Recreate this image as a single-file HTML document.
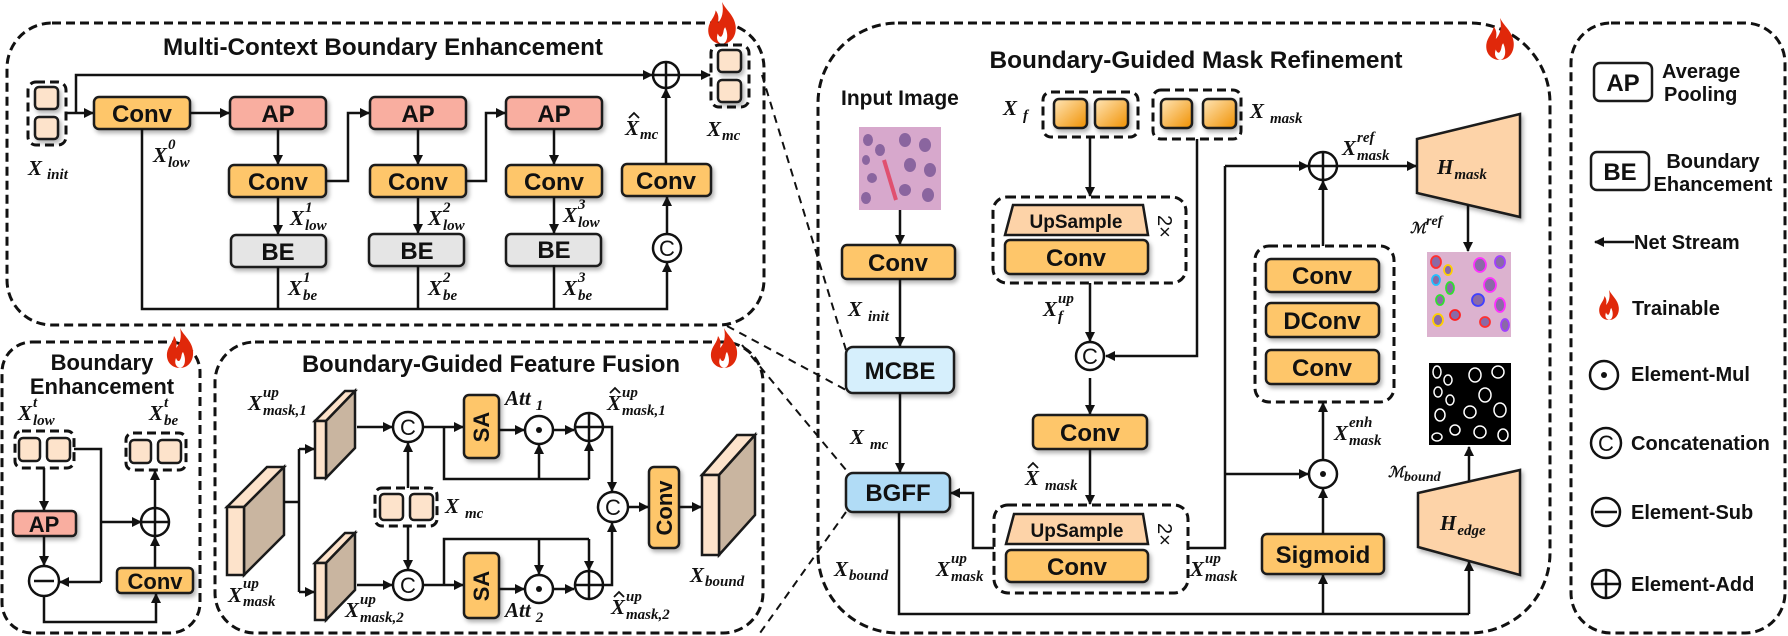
<!DOCTYPE html>
<html><head><meta charset="utf-8"><style>
html,body{margin:0;padding:0;background:#fff}
svg{display:block}
.t{font-family:"Liberation Sans",sans-serif;font-weight:bold;fill:#111}
.m{font-family:"Liberation Serif","DejaVu Serif",serif;font-style:italic;font-weight:bold;font-size:21px;fill:#111}
.s{font-family:"Liberation Serif","DejaVu Serif",serif;font-style:italic;font-weight:bold;font-size:15px;fill:#111}
.ln{stroke:#111;stroke-width:2.5;fill:none}
.ar{stroke:#111;stroke-width:2.5;fill:none;marker-end:url(#ah)}
.box{stroke:#1a1a1a;stroke-width:2.5}
.dash{stroke:#111;stroke-width:3;stroke-dasharray:9 5;fill:none}
.zl{stroke:#111;stroke-width:2;stroke-dasharray:8 6;fill:none}
</style></head><body>
<svg width="1788" height="636" viewBox="0 0 1788 636" xmlns="http://www.w3.org/2000/svg">
<defs>
<marker id="ah" markerWidth="10" markerHeight="10" refX="9" refY="5" orient="auto" markerUnits="userSpaceOnUse"><path d="M0,0 L10,5 L0,10 Z" fill="#111"/></marker>
<filter id="sh" x="-20%" y="-20%" width="150%" height="160%"><feDropShadow dx="2" dy="3" stdDeviation="2" flood-color="#000" flood-opacity="0.3"/></filter>
<linearGradient id="og" x1="0" y1="0" x2="1" y2="1"><stop offset="0" stop-color="#ffe6b8"/><stop offset="1" stop-color="#f09000"/></linearGradient>
<symbol id="fire" viewBox="0 0 30 40"><path d="M15 0 C19 8 27 13 28 23 C29 33 23 40 15 40 C7 40 1 34 2 25 C3 18 8 15 9 8 C12 12 12 16 11 20 C15 16 17 9 15 0Z M15 40 C11 39 9 35 11 30 C12 33 14 34 15 32 C17 29 16 26 18 24 C21 30 21 39 15 40Z" fill="#e0280a" fill-rule="evenodd"/></symbol>
</defs>

<!-- Panels -->
<rect x="7" y="23" width="757" height="302" rx="45" fill="#d9effb" class="dash"/>
<rect x="2" y="342" width="198" height="291" rx="30" fill="#e6e6e6" class="dash"/>
<rect x="215" y="342" width="548" height="291" rx="40" fill="#b4dffa" class="dash"/>
<rect x="818" y="23" width="732" height="610" rx="80" fill="#fdf6e3" class="dash"/>
<rect x="1571" y="23" width="214" height="610" rx="40" fill="#ececec" class="dash"/>

<!-- zoom lines -->
<path class="zl" d="M762 75 L846 350"/>
<path class="zl" d="M727 326 L846 390"/>
<path class="zl" d="M742 345 L846 470"/>
<path class="zl" d="M846 512 L760 633"/>

<use href="#fire" x="706" y="2" width="32" height="42"/>
<use href="#fire" x="164" y="328" width="32" height="40"/>
<use href="#fire" x="708" y="328" width="32" height="40"/>
<use href="#fire" x="1484" y="18" width="32" height="42"/>

<!-- ================= MCBE ================= -->
<text class="t" x="383" y="55" font-size="24" text-anchor="middle" textLength="440" lengthAdjust="spacingAndGlyphs">Multi-Context Boundary Enhancement</text>
<rect x="28" y="82" width="38" height="63" rx="8" fill="none" class="dash"/>
<rect x="35" y="87" width="23" height="22" rx="4" fill="#fde3cb" class="box" filter="url(#sh)"/>
<rect x="35" y="117" width="23" height="22" rx="4" fill="#fde3cb" class="box" filter="url(#sh)"/>
<text class="m" x="28" y="175">X<tspan class="s" dx="5" dy="4">init</tspan></text>

<path class="ar" d="M66 113 L93 113"/>
<path class="ar" d="M76 113 L76 75 L652 75"/>
<circle cx="666" cy="75" r="13" fill="none" class="ln"/><path class="ln" d="M653 75 H679 M666 62 V88"/>
<path class="ar" d="M679 75 L710 75"/>
<rect x="711" y="45" width="38" height="62" rx="8" fill="none" class="dash"/>
<rect x="718" y="50" width="23" height="22" rx="4" fill="#fde3cb" class="box" filter="url(#sh)"/>
<rect x="718" y="80" width="23" height="22" rx="4" fill="#fde3cb" class="box" filter="url(#sh)"/>
<text class="m" x="707" y="136">X<tspan class="s" dx="1" dy="4">mc</tspan></text>

<g filter="url(#sh)">
<rect x="94" y="97" width="96" height="32" rx="5" fill="#fec66a" class="box"/>
<rect x="230" y="97" width="96" height="32" rx="5" fill="#f9aea0" class="box"/>
<rect x="229" y="165" width="97" height="32" rx="5" fill="#fec66a" class="box"/>
<rect x="231" y="235" width="95" height="32" rx="5" fill="#e5e5e5" class="box"/>
<rect x="370" y="97" width="96" height="32" rx="5" fill="#f9aea0" class="box"/>
<rect x="370" y="165" width="96" height="32" rx="5" fill="#fec66a" class="box"/>
<rect x="369" y="234" width="95" height="32" rx="5" fill="#e5e5e5" class="box"/>
<rect x="506" y="97" width="96" height="32" rx="5" fill="#f9aea0" class="box"/>
<rect x="506" y="165" width="96" height="32" rx="5" fill="#fec66a" class="box"/>
<rect x="506" y="234" width="95" height="32" rx="5" fill="#e5e5e5" class="box"/>
<rect x="622" y="164" width="89" height="32" rx="5" fill="#fec66a" class="box"/>
</g>
<g class="t" font-size="24" text-anchor="middle">
<text x="142" y="122">Conv</text><text x="278" y="122">AP</text><text x="278" y="190">Conv</text><text x="278" y="260">BE</text>
<text x="418" y="122">AP</text><text x="418" y="190">Conv</text><text x="417" y="259">BE</text>
<text x="554" y="122">AP</text><text x="554" y="190">Conv</text><text x="554" y="258">BE</text>
<text x="666" y="189">Conv</text>
</g>
<path class="ar" d="M190 113 L229 113"/>
<path class="ar" d="M278 129 L278 164"/>
<path class="ar" d="M326 181 L348 181 L348 113 L369 113"/>
<path class="ar" d="M418 129 L418 164"/>
<path class="ar" d="M466 181 L486 181 L486 113 L505 113"/>
<path class="ar" d="M554 129 L554 164"/>
<path class="ar" d="M278 197 L278 234"/>
<path class="ar" d="M418 198 L418 233"/>
<path class="ar" d="M554 197 L554 233"/>
<path class="ln" d="M278 267 V309 M418 266 V309 M554 265 V309"/>
<path class="ar" d="M142 129 L142 309 L667 309 L667 263"/>
<circle cx="667" cy="248" r="14" fill="none" class="ln"/><text x="667" y="256" font-family="Liberation Sans,sans-serif" font-size="22" text-anchor="middle" fill="#111">C</text>
<path class="ar" d="M667 234 L667 197"/>
<path class="ar" d="M666 164 L666 89"/>

<text class="m" x="153" y="162">X</text><text class="s" x="168" y="149">0</text><text class="s" x="168" y="167">low</text>
<text class="m" x="290" y="225">X</text><text class="s" x="305" y="212">1</text><text class="s" x="305" y="230">low</text>
<text class="m" x="428" y="225">X</text><text class="s" x="443" y="212">2</text><text class="s" x="443" y="230">low</text>
<text class="m" x="563" y="222">X</text><text class="s" x="578" y="209">3</text><text class="s" x="578" y="227">low</text>
<text class="m" x="288" y="295">X</text><text class="s" x="303" y="282">1</text><text class="s" x="303" y="300">be</text>
<text class="m" x="428" y="295">X</text><text class="s" x="443" y="282">2</text><text class="s" x="443" y="300">be</text>
<text class="m" x="563" y="295">X</text><text class="s" x="578" y="282">3</text><text class="s" x="578" y="300">be</text>
<text class="m" x="625" y="135">X<tspan class="s" dx="1" dy="4">mc</tspan></text>
<path d="M629 118 L634 113 L639 118" stroke="#111" stroke-width="1.8" fill="none"/>

<!-- ================= BE panel ================= -->
<text class="t" x="102" y="370" font-size="22" text-anchor="middle">Boundary</text>
<text class="t" x="102" y="394" font-size="22" text-anchor="middle">Enhancement</text>
<text class="m" x="18" y="420">X</text><text class="s" x="33" y="407">t</text><text class="s" x="33" y="425">low</text>
<text class="m" x="149" y="420">X</text><text class="s" x="164" y="407">t</text><text class="s" x="164" y="425">be</text>
<rect x="15" y="431" width="59" height="37" rx="7" fill="none" class="dash"/>
<rect x="19" y="438" width="21" height="23" rx="4" fill="#fde3cb" class="box"/>
<rect x="47" y="438" width="23" height="23" rx="4" fill="#fde3cb" class="box"/>
<rect x="126" y="433" width="60" height="37" rx="7" fill="none" class="dash"/>
<rect x="130" y="440" width="21" height="23" rx="4" fill="#fde3cb" class="box"/>
<rect x="158" y="440" width="23" height="23" rx="4" fill="#fde3cb" class="box"/>
<path class="ar" d="M44 468 L44 510"/>
<rect x="13" y="511" width="63" height="25" rx="4" fill="#f9aea0" class="box" filter="url(#sh)"/>
<text class="t" x="44" y="532" font-size="22" text-anchor="middle">AP</text>
<path class="ar" d="M44 536 L44 565"/>
<circle cx="44" cy="581" r="15" fill="none" class="ln"/><path class="ln" d="M34 581 H54" stroke-width="2"/>
<path class="ln" d="M74 449 L101 449 L101 582"/>
<path class="ar" d="M101 582 L60 582"/>
<path class="ar" d="M101 522 L141 522"/>
<circle cx="155" cy="522" r="14" fill="none" class="ln"/><path class="ln" d="M141 522 H169 M155 508 V536"/>
<path class="ar" d="M155 508 L155 471"/>
<rect x="117" y="568" width="76" height="25" rx="4" fill="#fec66a" class="box" filter="url(#sh)"/>
<text class="t" x="155" y="589" font-size="22" text-anchor="middle">Conv</text>
<path class="ar" d="M155 568 L155 537"/>
<path class="ar" d="M44 596 L44 622 L156 622 L156 594"/>

<!-- ================= BGFF ================= -->
<text class="t" x="491" y="372" font-size="24" text-anchor="middle" textLength="378" lengthAdjust="spacingAndGlyphs">Boundary-Guided Feature Fusion</text>
<!-- big cuboid -->
<polygon points="227,507 267,467 284,467 244,507" fill="#fde3cb" class="box"/>
<polygon points="244,507 284,467 284,535 244,575" fill="#c9b5a0" class="box"/>
<rect x="227" y="507" width="17" height="68" fill="#fde3cb" class="box"/>
<text class="m" x="228" y="602">X</text><text class="s" x="243" y="588">up</text><text class="s" x="243" y="606">mask</text>
<path class="ln" d="M284 502 L299 502 M299 449 L299 592"/>
<path class="ar" d="M299 449 L314 449"/>
<path class="ar" d="M299 592 L314 592"/>
<!-- small cuboids -->
<polygon points="315,421 345,391 355,391 326,421" fill="#fde3cb" class="box"/>
<polygon points="326,421 355,391 355,448 326,478" fill="#c9b5a0" class="box"/>
<rect x="315" y="421" width="11" height="57" fill="#fde3cb" class="box"/>
<polygon points="315,563 345,533 355,533 326,563" fill="#fde3cb" class="box"/>
<polygon points="326,563 355,533 355,590 326,620" fill="#c9b5a0" class="box"/>
<rect x="315" y="563" width="11" height="57" fill="#fde3cb" class="box"/>
<text class="m" x="248" y="410">X</text><text class="s" x="263" y="397">up</text><text class="s" x="263" y="415">mask,1</text>
<text class="m" x="345" y="617">X</text><text class="s" x="360" y="604">up</text><text class="s" x="360" y="622">mask,2</text>
<path class="ar" d="M357 427 L392 427"/>
<path class="ar" d="M357 585 L392 585"/>
<circle cx="408" cy="427" r="15" fill="none" class="ln"/><text x="408" y="435" font-family="Liberation Sans,sans-serif" font-size="22" text-anchor="middle" fill="#111">C</text>
<circle cx="408" cy="585" r="15" fill="none" class="ln"/><text x="408" y="593" font-family="Liberation Sans,sans-serif" font-size="22" text-anchor="middle" fill="#111">C</text>
<rect x="375" y="488" width="62" height="38" rx="7" fill="none" class="dash"/>
<rect x="380" y="494" width="23" height="26" rx="4" fill="#fde3cb" class="box"/>
<rect x="410" y="494" width="23" height="26" rx="4" fill="#fde3cb" class="box"/>
<text class="m" x="445" y="513">X<tspan class="s" dx="6" dy="5">mc</tspan></text>
<path class="ar" d="M408 488 L408 443"/>
<path class="ar" d="M408 526 L408 569"/>
<path class="ar" d="M423 427 L463 427"/>
<path class="ar" d="M423 585 L463 585"/>
<rect x="464" y="395" width="35" height="63" rx="5" fill="#fec66a" class="box" filter="url(#sh)"/>
<rect x="464" y="553" width="35" height="65" rx="5" fill="#fec66a" class="box" filter="url(#sh)"/>
<text class="t" font-size="22" text-anchor="middle" transform="translate(489 427) rotate(-90)">SA</text>
<text class="t" font-size="22" text-anchor="middle" transform="translate(489 586) rotate(-90)">SA</text>
<path class="ar" d="M499 430 L524 430"/>
<path class="ar" d="M499 589 L524 589"/>
<circle cx="539" cy="430" r="14" fill="none" class="ln"/><circle cx="539" cy="430" r="3" fill="#111"/>
<circle cx="539" cy="589" r="14" fill="none" class="ln"/><circle cx="539" cy="589" r="3" fill="#111"/>
<path class="ar" d="M553 430 L574 430"/>
<path class="ar" d="M553 589 L574 589"/>
<circle cx="589" cy="427" r="14" fill="none" class="ln"/><path class="ln" d="M575 427 H603 M589 413 V441"/>
<circle cx="589" cy="585" r="14" fill="none" class="ln"/><path class="ln" d="M575 585 H603 M589 571 V599"/>
<path class="ln" d="M444 427 L444 479 L589 479"/>
<path class="ar" d="M539 479 L539 445"/>
<path class="ar" d="M589 479 L589 442"/>
<path class="ln" d="M444 585 L444 539 L589 539"/>
<path class="ar" d="M539 539 L539 574"/>
<path class="ar" d="M589 539 L589 570"/>
<path class="ar" d="M603 427 L612 427 L612 491"/>
<path class="ar" d="M603 585 L612 585 L612 523"/>
<circle cx="613" cy="507" r="15" fill="none" class="ln"/><text x="613" y="515" font-family="Liberation Sans,sans-serif" font-size="22" text-anchor="middle" fill="#111">C</text>
<path class="ar" d="M628 507 L648 507"/>
<rect x="649" y="467" width="30" height="81" rx="5" fill="#fec66a" class="box" filter="url(#sh)"/>
<text class="t" font-size="22" text-anchor="middle" transform="translate(672 508) rotate(-90)">Conv</text>
<path class="ar" d="M679 507 L701 507"/>
<polygon points="702,475 737,435 755,435 719,475" fill="#fde3cb" class="box"/>
<polygon points="719,475 755,435 755,515 719,555" fill="#c9b5a0" class="box"/>
<rect x="702" y="475" width="17" height="80" fill="#fde3cb" class="box"/>
<text class="m" x="690" y="582">X<tspan class="s" dx="1" dy="4">bound</tspan></text>
<text class="m" x="505" y="405">Att<tspan class="s" dx="5" dy="5">1</tspan></text>
<text class="m" x="505" y="617">Att<tspan class="s" dx="5" dy="5">2</tspan></text>
<text class="m" x="607" y="410">X</text><text class="s" x="622" y="397">up</text><text class="s" x="622" y="415">mask,1</text>
<path d="M610 393 L615 388 L620 393" stroke="#111" stroke-width="1.8" fill="none"/>
<text class="m" x="611" y="614">X</text><text class="s" x="626" y="601">up</text><text class="s" x="626" y="619">mask,2</text>
<path d="M614 597 L619 592 L624 597" stroke="#111" stroke-width="1.8" fill="none"/>

<!-- ================= BMR ================= -->
<text class="t" x="1196" y="68" font-size="24" text-anchor="middle" textLength="413" lengthAdjust="spacingAndGlyphs">Boundary-Guided Mask Refinement</text>
<text class="t" x="841" y="105" font-size="21">Input Image</text>
<rect x="859" y="127" width="82" height="83" fill="#d7a8cc"/>
<g fill="#7d5a98" opacity="0.85">
<ellipse cx="868" cy="140" rx="5" ry="6"/><ellipse cx="880" cy="150" rx="5" ry="6"/><ellipse cx="866" cy="160" rx="4" ry="5"/><ellipse cx="872" cy="178" rx="5" ry="5"/><ellipse cx="866" cy="198" rx="5" ry="6"/>
<ellipse cx="905" cy="140" rx="6" ry="7"/><ellipse cx="925" cy="145" rx="6" ry="7"/><ellipse cx="910" cy="165" rx="6" ry="7"/><ellipse cx="930" cy="170" rx="6" ry="7"/><ellipse cx="905" cy="190" rx="6" ry="6"/><ellipse cx="928" cy="195" rx="6" ry="7"/>
</g>
<path d="M884 160 L896 200" stroke="#e05070" stroke-width="4"/>
<path class="ar" d="M900 210 L900 244"/>
<rect x="842" y="245" width="113" height="34" rx="5" fill="#fec66a" class="box" filter="url(#sh)"/>
<text class="t" x="898" y="271" font-size="24" text-anchor="middle">Conv</text>
<path class="ar" d="M900 279 L900 346"/>
<text class="m" x="848" y="316">X<tspan class="s" dx="6" dy="5">init</tspan></text>
<rect x="846" y="347" width="108" height="46" rx="7" fill="#d6effc" class="box" filter="url(#sh)"/>
<text class="t" x="900" y="379" font-size="24" text-anchor="middle">MCBE</text>
<path class="ar" d="M900 393 L900 472"/>
<text class="m" x="850" y="444">X<tspan class="s" dx="6" dy="5">mc</tspan></text>
<rect x="846" y="473" width="104" height="39" rx="7" fill="#b1dcf6" class="box" filter="url(#sh)"/>
<text class="t" x="898" y="501" font-size="24" text-anchor="middle">BGFF</text>
<text class="m" x="834" y="576">X<tspan class="s" dx="1" dy="4">bound</tspan></text>
<path class="ln" d="M899 512 L899 614 L1469 614"/>
<path class="ar" d="M1323 614 L1323 575"/>
<path class="ar" d="M1469 614 L1469 562"/>

<text class="m" x="1003" y="115">X<tspan class="s" dx="6" dy="5">f</tspan></text>
<rect x="1043" y="92" width="95" height="45" rx="8" fill="none" class="dash"/>
<rect x="1054" y="99" width="33" height="29" rx="5" fill="url(#og)" class="box" filter="url(#sh)"/>
<rect x="1095" y="99" width="33" height="29" rx="5" fill="url(#og)" class="box" filter="url(#sh)"/>
<rect x="1153" y="90" width="88" height="49" rx="8" fill="none" class="dash"/>
<rect x="1161" y="99" width="31" height="29" rx="5" fill="url(#og)" class="box" filter="url(#sh)"/>
<rect x="1203" y="99" width="33" height="29" rx="5" fill="url(#og)" class="box" filter="url(#sh)"/>
<text class="m" x="1250" y="118">X<tspan class="s" dx="6" dy="5">mask</tspan></text>
<path class="ar" d="M1090 137 L1090 196"/>
<rect x="993" y="197" width="193" height="86" rx="14" fill="#efefef" class="dash"/>
<polygon points="1013,205 1143,205 1148,235 1005,235" fill="#fdd3a8" class="box"/>
<text class="t" x="1076" y="228" font-size="19" text-anchor="middle">UpSample</text>
<rect x="1005" y="240" width="143" height="34" rx="5" fill="#fec66a" class="box" filter="url(#sh)"/>
<text class="t" x="1076" y="266" font-size="24" text-anchor="middle">Conv</text>
<text font-family="Liberation Sans,sans-serif" font-size="20" fill="#111" transform="translate(1158 215) rotate(90)">2×</text>
<path class="ar" d="M1090 283 L1090 341"/>
<text class="m" x="1043" y="316">X</text><text class="s" x="1058" y="303">up</text><text class="s" x="1058" y="321">f</text>
<path class="ar" d="M1197 139 L1197 356 L1106 356"/>
<circle cx="1090" cy="356" r="14" fill="none" class="ln"/><text x="1090" y="364" font-family="Liberation Sans,sans-serif" font-size="22" text-anchor="middle" fill="#111">C</text>
<path class="ar" d="M1090 378 L1090 414"/>
<rect x="1033" y="415" width="114" height="34" rx="5" fill="#fec66a" class="box" filter="url(#sh)"/>
<text class="t" x="1090" y="441" font-size="24" text-anchor="middle">Conv</text>
<path class="ar" d="M1090 449 L1090 504"/>
<text class="m" x="1025" y="485">X<tspan class="s" dx="6" dy="5">mask</tspan></text>
<path d="M1028 468 L1033 463 L1038 468" stroke="#111" stroke-width="1.8" fill="none"/>
<rect x="994" y="505" width="194" height="88" rx="14" fill="#efefef" class="dash"/>
<polygon points="1014,514 1143,514 1148,544 1006,544" fill="#fdd3a8" class="box"/>
<text class="t" x="1077" y="537" font-size="19" text-anchor="middle">UpSample</text>
<rect x="1006" y="550" width="142" height="32" rx="5" fill="#fec66a" class="box" filter="url(#sh)"/>
<text class="t" x="1077" y="575" font-size="24" text-anchor="middle">Conv</text>
<text font-family="Liberation Sans,sans-serif" font-size="20" fill="#111" transform="translate(1158 523) rotate(90)">2×</text>
<path class="ar" d="M994 548 L973 548 L973 493 L951 493"/>
<text class="m" x="936" y="576">X</text><text class="s" x="951" y="563">up</text><text class="s" x="951" y="581">mask</text>
<text class="m" x="1190" y="576">X</text><text class="s" x="1205" y="563">up</text><text class="s" x="1205" y="581">mask</text>
<path class="ln" d="M1188 548 L1225 548 L1225 166"/>
<path class="ar" d="M1225 166 L1308 166"/>
<path class="ar" d="M1225 474 L1308 474"/>
<circle cx="1323" cy="166" r="14" fill="none" class="ln"/><path class="ln" d="M1309 166 H1337 M1323 152 V180"/>
<path class="ar" d="M1337 166 L1416 166"/>
<text class="m" x="1342" y="155">X</text><text class="s" x="1357" y="142">ref</text><text class="s" x="1357" y="160">mask</text>
<rect x="1255" y="246" width="139" height="156" rx="14" fill="#efefef" class="dash"/>
<g filter="url(#sh)">
<rect x="1266" y="259" width="113" height="33" rx="5" fill="#fec66a" class="box"/>
<rect x="1266" y="303" width="113" height="34" rx="5" fill="#fec66a" class="box"/>
<rect x="1266" y="350" width="113" height="34" rx="5" fill="#fec66a" class="box"/>
<rect x="1262" y="534" width="122" height="40" rx="5" fill="#fec66a" class="box"/>
</g>
<text class="t" x="1322" y="284" font-size="24" text-anchor="middle">Conv</text>
<text class="t" x="1322" y="329" font-size="24" text-anchor="middle">DConv</text>
<text class="t" x="1322" y="376" font-size="24" text-anchor="middle">Conv</text>
<text class="t" x="1323" y="563" font-size="24" text-anchor="middle">Sigmoid</text>
<path class="ar" d="M1323 246 L1323 181"/>
<circle cx="1323" cy="474" r="14" fill="none" class="ln"/><circle cx="1323" cy="474" r="3" fill="#111"/>
<path class="ar" d="M1323 460 L1323 403"/>
<path class="ar" d="M1323 534 L1323 489"/>
<text class="m" x="1334" y="440">X</text><text class="s" x="1349" y="427">enh</text><text class="s" x="1349" y="445">mask</text>
<polygon points="1417,139 1520,114 1520,217 1417,193" fill="#fdd3a8" class="box" stroke-width="2" filter="url(#sh)"/>
<text class="m" x="1437" y="174" font-size="24">H<tspan class="s" dx="1" dy="5" font-size="18">mask</tspan></text>
<path class="ar" d="M1468 205 L1468 251"/>
<text class="s" x="1410" y="233" font-size="20">ℳ<tspan dy="-8" font-size="14">ref</tspan></text>
<rect x="1427" y="252" width="84" height="85" fill="#dcb2cf"/>
<g fill="#8a6aa6" stroke-width="1.8">
<ellipse cx="1436" cy="262" rx="5" ry="6" stroke="#ff3030"/><ellipse cx="1448" cy="270" rx="4" ry="5" stroke="#ffd000"/><ellipse cx="1436" cy="280" rx="4" ry="5" stroke="#20c0ff"/><ellipse cx="1450" cy="288" rx="4" ry="6" stroke="#30e030"/>
<ellipse cx="1440" cy="300" rx="4" ry="5" stroke="#30e030"/><ellipse cx="1438" cy="320" rx="5" ry="6" stroke="#ffd000"/><ellipse cx="1455" cy="315" rx="5" ry="5" stroke="#ff2020"/>
<ellipse cx="1480" cy="265" rx="6" ry="7" stroke="#ff30ff"/><ellipse cx="1500" cy="262" rx="5" ry="6" stroke="#a040ff"/><ellipse cx="1490" cy="285" rx="6" ry="7" stroke="#ff30ff"/><ellipse cx="1478" cy="300" rx="6" ry="6" stroke="#4040ff"/><ellipse cx="1500" cy="305" rx="5" ry="7" stroke="#ff30ff"/><ellipse cx="1485" cy="322" rx="5" ry="5" stroke="#ff3030"/><ellipse cx="1505" cy="325" rx="4" ry="6" stroke="#a040ff"/>
</g>
<rect x="1429" y="363" width="82" height="82" fill="#000"/>
<g fill="none" stroke="#fff" stroke-width="1.5">
<ellipse cx="1437" cy="372" rx="4" ry="6"/><ellipse cx="1448" cy="380" rx="4" ry="5"/><ellipse cx="1438" cy="392" rx="4" ry="5"/><ellipse cx="1450" cy="400" rx="4" ry="5"/><ellipse cx="1440" cy="415" rx="5" ry="6"/><ellipse cx="1455" cy="430" rx="5" ry="5"/><ellipse cx="1437" cy="437" rx="5" ry="4"/>
<ellipse cx="1475" cy="375" rx="6" ry="7"/><ellipse cx="1498" cy="372" rx="6" ry="6"/><ellipse cx="1485" cy="395" rx="6" ry="7"/><ellipse cx="1470" cy="412" rx="6" ry="6"/><ellipse cx="1500" cy="410" rx="6" ry="7"/><ellipse cx="1480" cy="432" rx="6" ry="6"/><ellipse cx="1503" cy="435" rx="5" ry="6"/>
</g>
<path class="ar" d="M1469 482 L1469 447"/>
<text class="s" x="1388" y="477" font-size="20">ℳ<tspan dy="4" font-size="14">bound</tspan></text>
<polygon points="1418,493 1520,470 1520,575 1418,547" fill="#fdd3a8" class="box" stroke-width="2" filter="url(#sh)"/>
<text class="m" x="1440" y="530" font-size="24">H<tspan class="s" dx="1" dy="5" font-size="18">edge</tspan></text>

<!-- ================= Legend ================= -->
<rect x="1594" y="63" width="58" height="38" rx="6" fill="none" class="box" stroke-width="3"/>
<text class="t" x="1623" y="91" font-size="24" text-anchor="middle">AP</text>
<text class="t" x="1662" y="78" font-size="20">Average</text>
<text class="t" x="1664" y="101" font-size="20">Pooling</text>
<rect x="1591" y="152" width="58" height="38" rx="6" fill="none" class="box" stroke-width="3"/>
<text class="t" x="1620" y="180" font-size="24" text-anchor="middle">BE</text>
<text class="t" x="1713" y="168" font-size="20" text-anchor="middle">Boundary</text>
<text class="t" x="1713" y="191" font-size="20" text-anchor="middle">Ehancement</text>
<path class="ar" d="M1634 242 L1595 242"/>
<text class="t" x="1634" y="249" font-size="20">Net Stream</text>
<use href="#fire" x="1597" y="290" width="24" height="30"/>
<text class="t" x="1632" y="315" font-size="20">Trainable</text>
<circle cx="1604" cy="375" r="14" fill="none" class="ln"/><circle cx="1604" cy="375" r="3" fill="#111"/>
<text class="t" x="1631" y="381" font-size="20">Element-Mul</text>
<circle cx="1606" cy="443" r="15" fill="none" class="ln"/><text x="1606" y="451" font-family="Liberation Sans,sans-serif" font-size="22" text-anchor="middle" fill="#111">C</text>
<text class="t" x="1631" y="450" font-size="20">Concatenation</text>
<circle cx="1606" cy="512" r="14" fill="none" class="ln"/><path class="ln" d="M1595 512 H1617" stroke-width="2"/>
<text class="t" x="1631" y="519" font-size="20">Element-Sub</text>
<circle cx="1606" cy="584" r="14" fill="none" class="ln"/><path class="ln" d="M1592 584 H1620 M1606 570 V598"/>
<text class="t" x="1631" y="591" font-size="20">Element-Add</text>
</svg>
</body></html>
